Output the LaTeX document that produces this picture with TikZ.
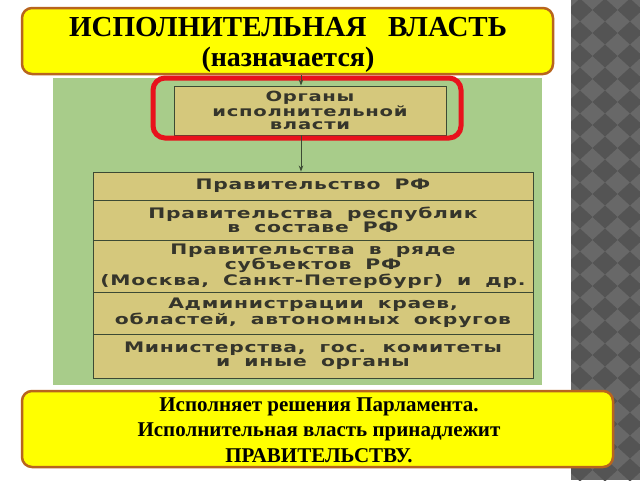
\documentclass[tikz,border=0pt]{standalone}
\usepackage{fontspec}
\usetikzlibrary{arrows.meta}
\setmainfont{Liberation Serif}
\newfontfamily\titlefont{Liberation Serif}[UprightFont=* Bold]
\newfontfamily\listfont{DejaVu Sans}[UprightFont=* Bold, FakeStretch=1.4, LetterSpace=5, WordSpace=1.8]
\definecolor{yel}{HTML}{FFFF00}
\definecolor{brd}{HTML}{B8651E}
\definecolor{grn}{HTML}{A8CC8A}
\definecolor{kha}{HTML}{D5C87C}
\definecolor{lin}{HTML}{3C4A34}
\definecolor{txt}{HTML}{35352B}
\definecolor{redb}{HTML}{E8121C}
\definecolor{strl}{HTML}{686868}
\definecolor{strd}{HTML}{545454}
\tikzset{
  ybox/.style={draw=brd, line width=2.5pt, fill=yel, rounded corners=10pt, inner sep=0pt},
  ytext/.style={align=center, inner sep=0pt, text=black},
  kbox/.style={draw=lin, line width=0.9pt, fill=kha, align=center, inner sep=0pt, text=txt,
    font=\listfont\fontsize{14.5}{14}\selectfont, minimum width=440pt},
  hl/.style={draw=redb, line width=5pt, rounded corners=12pt, inner sep=0pt},
  arr/.style={draw=lin, line width=0.9pt, -{Stealth[length=6pt,width=4.5pt]}},
  panel/.style={fill=grn, inner sep=0pt}
}
\begin{document}
\begin{tikzpicture}[x=1pt,y=-1pt]
\useasboundingbox (0,0) rectangle (640,480);
\fill[white] (0,0) rectangle (640,480);
% decorative stripe
\begin{scope}
\clip (571,0) rectangle (640,480);
\fill[strl] (571,0) rectangle (640,480);
\foreach \j in {0,...,21} {
  \foreach \i in {0,...,3} {
    \fill[strd] ({580+\i*25-12.5},{10+\j*23}) -- ++(12.5,-11.5) -- ++(12.5,11.5) -- ++(-12.5,11.5) -- cycle;
  }
}
\end{scope}
% green panel
\node[panel, minimum width=489pt, minimum height=307pt] (panel) at (297.5,231.5) {};
% title
\node[ybox, minimum width=531pt, minimum height=66pt] (title) at (287.5,41) {};
\node[ytext, font=\titlefont\fontsize{29}{30}\selectfont] (titletext) at (288,45)
  {ИСПОЛНИТЕЛЬНАЯ\ \ \ ВЛАСТЬ\\{\fontsize{28}{30}\selectfont (назначается)}};
% organs box
\node[kbox, minimum width=272pt, minimum height=49pt, font=\listfont\fontsize{14}{13.5}\selectfont] (organs) at (310,110.5)
  {Органы\\исполнительной\\власти};
\node[hl, minimum width=308pt, minimum height=60pt] (hl) at (307,108) {};
% list rows
\node[kbox, minimum height=28pt] (r1) at (313,186) {Правительство РФ};
\node[kbox, minimum height=40pt] (r2) at (313,220) {Правительства республик\\в составе РФ};
\node[kbox, minimum height=52pt] (r3) at (313,266) {Правительства в ряде\\субъектов РФ\\(Москва, Санкт-Петербург) и др.};
\node[kbox, minimum height=42pt] (r4) at (313,313) {Администрации краев,\\областей, автономных округов};
\node[kbox, minimum height=44pt] (r5) at (313,356) {Министерства, гос. комитеты\\и иные органы};
% connectors
\coordinate (ax) at (301,0);
\draw[arr] (title.south -| ax) -- (organs.north -| ax);
\draw[arr] (organs.south -| ax) -- (r1.north -| ax);
% bottom box
\node[ybox, minimum width=591pt, minimum height=76pt] (note) at (317.5,429) {};
\node[ytext, font=\titlefont\fontsize{21}{25.5}\selectfont] (notetext) at (319,430)
  {Исполняет решения Парламента.\\Исполнительная власть принадлежит\\ПРАВИТЕЛЬСТВУ.};
\end{tikzpicture}
\end{document}
